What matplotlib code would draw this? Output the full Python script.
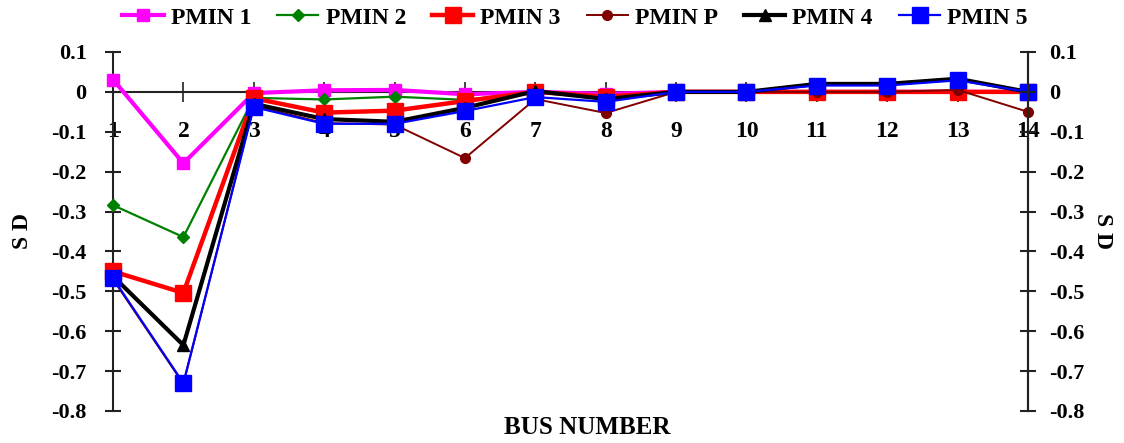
import matplotlib
matplotlib.use("Agg")
import matplotlib.pyplot as plt

plt.rcParams["font.family"] = ["Liberation Serif", "DejaVu Serif"]
plt.rcParams["font.weight"] = "bold"

bus = list(range(1, 15))

pmin1 = [0.031, -0.179, -0.003, 0.004, 0.005, -0.006, 0.0, -0.005, 0.0, 0.0, 0.0, 0.0, 0.0, 0.0]
pmin2 = [-0.284, -0.364, -0.015, -0.019, -0.012, -0.02, 0.0, -0.01, 0.0, 0.0, 0.0, 0.0, 0.0, 0.0]
pmin3 = [-0.450, -0.504, -0.016, -0.052, -0.047, -0.023, 0.0, -0.012, 0.0, 0.0, 0.0, 0.0, 0.0, 0.0]
pminp = [-0.470, -0.732, -0.035, -0.078, -0.082, -0.166, -0.018, -0.053, 0.0, 0.0, 0.0, 0.0, 0.005, -0.05]
pmin4 = [-0.462, -0.635, -0.03, -0.068, -0.075, -0.04, 0.002, -0.018, 0.0, 0.0, 0.02, 0.02, 0.033, 0.0]
pmin5 = [-0.467, -0.730, -0.038, -0.080, -0.080, -0.048, -0.013, -0.025, 0.0, 0.0, 0.016, 0.016, 0.029, 0.0]

series_names = ["PMIN 1", "PMIN 2", "PMIN 3", "PMIN P", "PMIN 4", "PMIN 5"]
y_ticks = [0.1, 0, -0.1, -0.2, -0.3, -0.4, -0.5, -0.6, -0.7, -0.8]
y_tick_labels = ["0.1", "0", "-0.1", "-0.2", "-0.3", "-0.4", "-0.5", "-0.6", "-0.7", "-0.8"]

styles = [
    dict(color="#FF00FF", lw=3.0, marker="s", ms=9),
    dict(color="#008000", lw=1.6, marker="D", ms=6),
    dict(color="#FF0000", lw=3.2, marker="s", ms=11),
    dict(color="#800000", lw=1.4, marker="o", ms=7),
    dict(color="#000000", lw=3.0, marker="^", ms=8),
    dict(color="#0000FF", lw=1.6, marker="s", ms=11),
]

fig = plt.figure(figsize=(11.24, 4.43), dpi=100)
ax = fig.add_axes([113 / 1124, 1 - 411 / 443, (1028 - 113) / 1124, (411 - 52) / 443])

handles = []
for vals, name, st in zip([pmin1, pmin2, pmin3, pminp, pmin4, pmin5], series_names, styles):
    h, = ax.plot(bus, vals, color=st["color"], lw=st["lw"], marker=st["marker"],
                 ms=st["ms"], mec=st["color"], mfc=st["color"], label=name,
                 clip_on=False, zorder=3)
    handles.append(h)

ax.set_xlim(1, 14)
ax.set_ylim(-0.8, 0.1)

# x axis drawn through zero
ax.spines["bottom"].set_position(("data", 0))
ax.spines["top"].set_visible(False)
for sp in ("left", "right", "bottom"):
    ax.spines[sp].set_linewidth(1.5)
    ax.spines[sp].set_color("#222222")

ax.set_xticks(bus)
ax.set_xticklabels([str(b) for b in bus], fontsize=17, fontweight="bold")
ax.tick_params(axis="x", direction="inout", length=14, width=1.2, pad=14, color="#222222")

ax.set_yticks(y_ticks)
ax.set_yticklabels(y_tick_labels, fontsize=16, fontweight="bold")
ax.tick_params(axis="y", direction="inout", length=12, width=1.5, pad=13, color="#222222")
ax.set_ylabel("S D", fontsize=17, fontweight="bold", labelpad=13)

ax2 = ax.twinx()
ax2.set_ylim(-0.8, 0.1)
ax2.set_yticks(y_ticks)
ax2.set_yticklabels(y_tick_labels, fontsize=16, fontweight="bold")
ax2.tick_params(axis="y", direction="inout", length=12, width=1.5, pad=9, color="#222222")
for sp in ("top", "bottom", "left"):
    ax2.spines[sp].set_visible(False)
ax2.spines["right"].set_linewidth(1.5)
ax2.spines["right"].set_color("#222222")
ax2.set_ylabel("S D", fontsize=17, fontweight="bold", rotation=270, labelpad=21)

fig.text(587 / 1124, 1 - 427 / 443, "BUS NUMBER", ha="center", va="center",
         fontsize=18, fontweight="bold")

fig.legend(handles=handles, loc="center", bbox_to_anchor=(575 / 1124, 1 - 18 / 443),
           ncol=6, frameon=False, prop=dict(weight="bold", size=17),
           handlelength=1.75, handletextpad=0.3, columnspacing=1.1, borderaxespad=0)

fig.savefig("out.png", dpi=100)
